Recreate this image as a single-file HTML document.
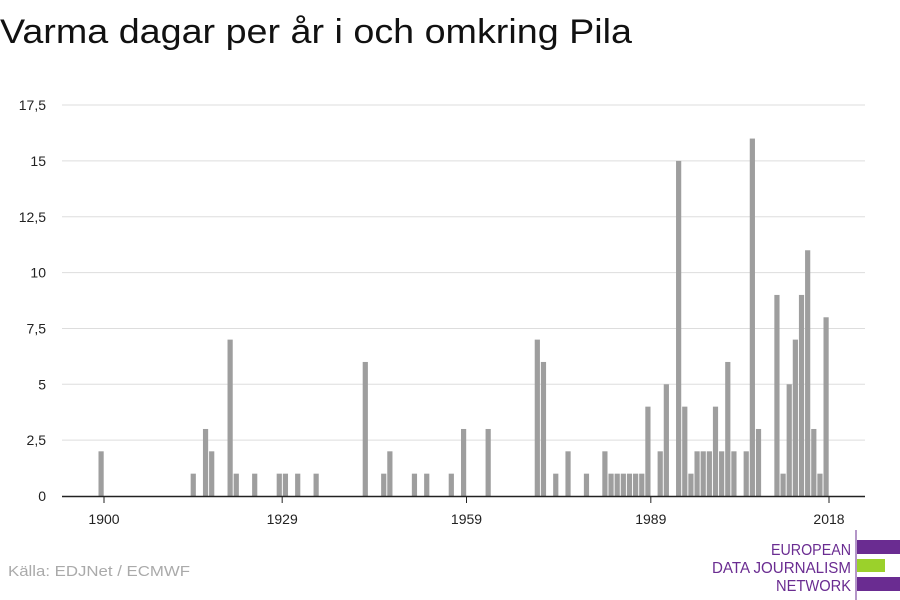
<!DOCTYPE html>
<html><head><meta charset="utf-8"><style>
body{margin:0;background:#fff;font-family:"Liberation Sans",sans-serif;}
#wrap{position:relative;width:900px;height:600px;overflow:hidden;}
</style></head><body>
<div id="wrap">
<svg width="900" height="600" id="svg">
<text x="0" y="43" font-size="34" fill="#111" textLength="632" lengthAdjust="spacingAndGlyphs">Varma dagar per år i och omkring Pila</text>
<g id="grid"></g><g id="bars"></g><g id="axis"></g>
<text x="8" y="576" font-size="15" fill="#aaa" textLength="182" lengthAdjust="spacingAndGlyphs">Källa: EDJNet / ECMWF</text>
<g>
<line x1="856" y1="530" x2="856" y2="600" stroke="#6a2c91" stroke-width="1"/>
<text x="771" y="555" font-size="16" fill="#6a2c91" textLength="80" lengthAdjust="spacingAndGlyphs">EUROPEAN</text>
<text x="712" y="573" font-size="16" fill="#6a2c91" textLength="139" lengthAdjust="spacingAndGlyphs">DATA JOURNALISM</text>
<text x="776" y="591" font-size="16" fill="#6a2c91" textLength="75" lengthAdjust="spacingAndGlyphs">NETWORK</text>
<rect x="857" y="540" width="43" height="14" fill="#6a2c91"/>
<rect x="857" y="559" width="28" height="13" fill="#9bd12b"/>
<rect x="857" y="577" width="43" height="14" fill="#6a2c91"/>
</g>
</svg>
</div>
<script>
const years=[1900,1915,1917,1918,1921,1922,1925,1929,1930,1932,1935,1943,1946,1947,1951,1953,1957,1959,1963,1971,1972,1974,1976,1979,1982,1983,1984,1985,1986,1987,1988,1989,1991,1992,1994,1995,1996,1997,1998,1999,2000,2001,2002,2003,2005,2006,2007,2010,2011,2012,2013,2014,2015,2016,2017,2018];
const values=[2,1,3,2,7,1,1,1,1,1,1,6,1,2,1,1,1,3,3,7,6,1,2,1,2,1,1,1,1,1,1,4,2,5,15,4,1,2,2,2,4,2,6,2,2,16,3,9,1,5,7,9,11,3,1,8];
const yTicks=[0,2.5,5,7.5,10,12.5,15,17.5];
const yTickLabels=["0","2,5","5","7,5","10","12,5","15","17,5"];
const xTicks=[1900,1929,1959,1989,2018];
const NS="http://www.w3.org/2000/svg";
const xs=y=>98.5+(y-1900)*6.144;
const ys=v=>496-v*22.34;
function mk(t,a,p){const e=document.createElementNS(NS,t);for(const k in a)e.setAttribute(k,a[k]);p.appendChild(e);return e;}
const grid=document.getElementById('grid'),bars=document.getElementById('bars'),axis=document.getElementById('axis');
yTicks.forEach((v,i)=>{
 if(v>0){const l=mk('line',{x1:62,x2:865,y1:ys(v),y2:ys(v),stroke:'#ddd','stroke-width':1},grid);
 
 }
 const t=mk('text',{x:46,y:ys(v)+5,'font-size':14,fill:'#222','text-anchor':'end'},grid);
 t.textContent=yTickLabels[i];
 
 
});
years.forEach((y,i)=>{
 const r=mk('rect',{x:xs(y),y:ys(values[i]),width:5.2,height:496-ys(values[i]),fill:'#9e9e9e'},bars);
 
 
});
const ax=mk('line',{x1:62,x2:865,y1:496.5,y2:496.5,stroke:'#222','stroke-width':1.5},axis);


xTicks.forEach(y=>{
 const x=xs(y)+5.5;
 mk('line',{x1:x,x2:x,y1:497,y2:503,stroke:'#222'},axis);
 const t=mk('text',{x:x,y:524,'font-size':14,fill:'#222','text-anchor':'middle'},axis);
 t.textContent=y;
 
 
});
</script>
</body></html>
